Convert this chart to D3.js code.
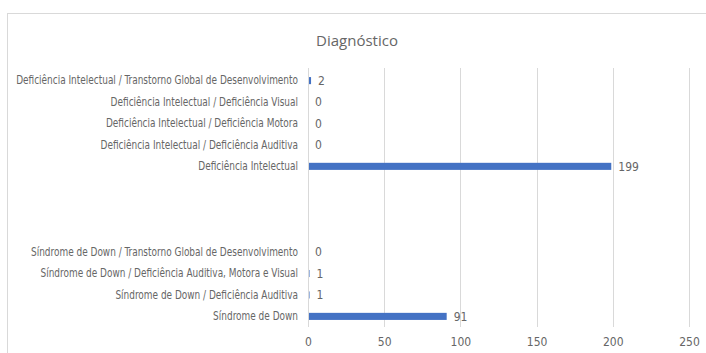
<!DOCTYPE html>
<html>
<head>
<meta charset="utf-8">
<script src="https://cdn.jsdelivr.net/npm/d3@7"></script>
<style>
  body { margin: 0; background: #fff; }
  text { font-family: "DejaVu Sans Condensed", "Liberation Sans Narrow", sans-serif; fill: #666; }
</style>
</head>
<body>
<svg id="drawing_region"></svg>
<script>
// categories top to bottom (blank rows are empty in the source sheet)
const categories = [
    "Deficiência Intelectual / Transtorno Global de Desenvolvimento",
    "Deficiência Intelectual / Deficiência Visual",
    "Deficiência Intelectual / Deficiência Motora",
    "Deficiência Intelectual / Deficiência Auditiva",
    "Deficiência Intelectual",
    "", "", "",
    "Síndrome de Down / Transtorno Global de Desenvolvimento",
    "Síndrome de Down / Deficiência Auditiva, Motora e Visual",
    "Síndrome de Down / Deficiência Auditiva",
    "Síndrome de Down"
];
const values = [2, 0, 0, 0, 199, null, null, null, 0, 1, 1, 91];
const xTicks = [0, 50, 100, 150, 200, 250];

const data = categories.map((c, i) => ({ key: "r" + i, label: c, value: values[i] }));

const width = 706, height = 353;
const margin = { top: 70, right: 17, bottom: 26, left: 308 };

const svg = d3.select('#drawing_region')
    .attr('width', width)
    .attr('height', height);

// chart border
svg.append('rect')
    .attr('x', 7.5).attr('y', 13.5)
    .attr('width', width).attr('height', height)
    .attr('fill', 'none')
    .attr('stroke', '#d9d9d9');

svg.append('text')
    .attr('x', 357).attr('y', 46)
    .attr('text-anchor', 'middle')
    .style('font-family', '"Open Sans", sans-serif')
    .style('font-size', '15px')
    .text('Diagnóstico');

const x = d3.scaleLinear()
    .domain([0, 250])
    .range([margin.left, width - margin.right]);

const y = d3.scaleBand()
    .domain(data.map(d => d.key))
    .range([margin.top, height - margin.bottom])
    .paddingInner(0.67)
    .paddingOuter(0.33);

const chart = svg.append('g');

// vertical gridlines
chart.selectAll('.grid')
    .data(xTicks.slice(1))
    .enter()
    .append('line')
    .attr('x1', d => Math.round(x(d)) + 0.5)
    .attr('x2', d => Math.round(x(d)) + 0.5)
    .attr('y1', margin.top - 2)
    .attr('y2', height - margin.bottom)
    .attr('stroke', '#d9d9d9');

// x axis labels
const xAxis = d3.axisBottom(x).tickValues(xTicks).tickSize(0).tickPadding(10);
const gx = svg.append('g')
    .attr('transform', `translate(0, ${height - margin.bottom})`)
    .call(xAxis);
gx.select('.domain').remove();
gx.selectAll('text').style('font-size', '12px').attr('fill', '#666');

// bars
chart.selectAll('.bar')
    .data(data.filter(d => d.value !== null))
    .enter()
    .append('rect')
    .attr('x', x(0))
    .attr('y', d => y(d.key))
    .attr('width', d => x(d.value) - x(0))
    .attr('height', y.bandwidth())
    .attr('fill', '#4472c4');

// y axis
const yAxis = d3.axisLeft(y).tickSize(0).tickPadding(10)
    .tickFormat(k => data.find(d => d.key === k).label);
const gy = svg.append('g')
    .attr('transform', `translate(${margin.left}, 0)`)
    .call(yAxis);
gy.select('.domain')
    .attr('d', `M0.5,${margin.top - 2}V${height - margin.bottom}`)
    .attr('stroke', '#d9d9d9');
const yLabels = gy.selectAll('text').style('font-size', '12px').attr('fill', '#666');

// squeeze labels horizontally so the longest fits like the narrow font in the original
let maxLen = 0;
yLabels.each(function () { maxLen = Math.max(maxLen, this.getComputedTextLength()); });
const squeeze = Math.min(1, 282 / maxLen);
yLabels
    .attr('x', -10 / squeeze)
    .attr('transform', `scale(${squeeze}, 1)`);

// value labels
chart.selectAll('.val')
    .data(data.filter(d => d.value !== null))
    .enter()
    .append('text')
    .attr('x', d => x(d.value) + 7)
    .attr('y', d => y(d.key) + y.bandwidth() / 2)
    .attr('dy', '0.35em')
    .style('font-size', '12px')
    .text(d => d.value);
</script>
</body>
</html>
